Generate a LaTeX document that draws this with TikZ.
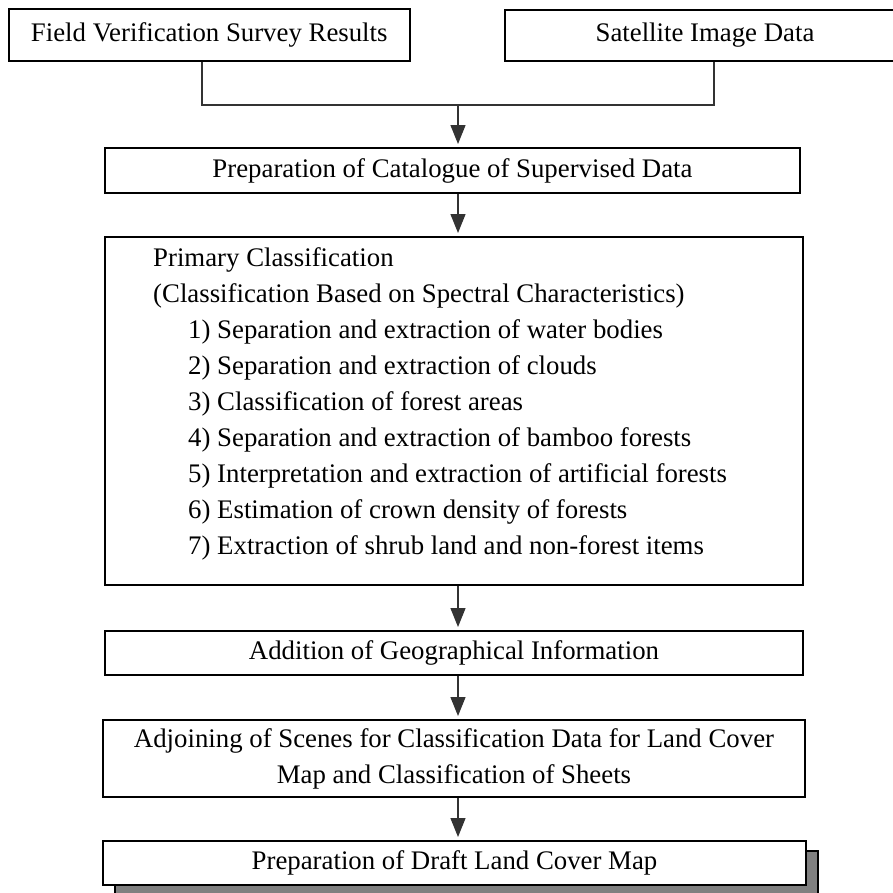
\documentclass[tikz,border=0pt]{standalone}
\usepackage{fontspec}
\setmainfont{Liberation Serif}
\usetikzlibrary{arrows.meta,shadows}
\begin{document}
\begin{tikzpicture}[x=1pt,y=-1pt,
  font=\fontsize{26.8}{36}\selectfont,
  box/.style={draw=black, line width=2pt, fill=white, inner sep=0pt, align=center},
  conn/.style={draw=black!80, line width=1.3pt},
  arr/.style={conn, -{Triangle[width=15pt,length=19pt]}, shorten >=3pt},
  shadowbox/.style={box, drop shadow={shadow xshift=12pt, shadow yshift=-10pt, fill=black!50, draw=black, line width=1.5pt, opacity=1}}]
\useasboundingbox (0,0) rectangle (893,892);
\clip (0,0) rectangle (893,892);

\node[box, minimum width=401.5pt, minimum height=52pt] (fv) at (209.25,35) {Field Verification Survey Results};
\node[box, minimum width=400pt, minimum height=51pt] (sat) at (705,35.5) {Satellite Image Data};
\node[box, minimum width=695pt, minimum height=45pt] (cat) at (452.5,170.5) {Preparation of Catalogue of Supervised Data};
\node[box, minimum width=698pt, minimum height=348pt] (prim) at (454,411) {};
\node[anchor=base west, align=left, inner sep=0pt] (primtxt) at (153,554)
 {Primary Classification\\
  (Classification Based on Spectral Characteristics)\\
  \hspace*{35pt}1) Separation and extraction of water bodies\\
  \hspace*{35pt}2) Separation and extraction of clouds\\
  \hspace*{35pt}3) Classification of forest areas\\
  \hspace*{35pt}4) Separation and extraction of bamboo forests\\
  \hspace*{35pt}5) Interpretation and extraction of artificial forests\\
  \hspace*{35pt}6) Estimation of crown density of forests\\
  \hspace*{35pt}7) Extraction of shrub land and non-forest items};
\node[box, minimum width=698pt, minimum height=44pt] (geo) at (454,653) {Addition of Geographical Information};
\node[box, minimum width=702pt, minimum height=77pt] (adj) at (454,758.5) {Adjoining of Scenes for Classification Data for Land Cover\\Map and Classification of Sheets};
\node[shadowbox, minimum width=703pt, minimum height=44pt] (draft) at (454.5,863) {Preparation of Draft Land Cover Map};

\coordinate (jl) at (202,105);
\coordinate (jr) at (714,105);
\coordinate (j) at (458,105);
\draw[conn] (fv.south -| jl) -- (jl) -- (jr) -- (sat.south -| jr);
\draw[arr] (j) -- (cat.north -| j);
\draw[arr] (cat.south -| j) -- (prim.north -| j);
\draw[arr] (prim.south -| j) -- (geo.north -| j);
\draw[arr] (geo.south -| j) -- (adj.north -| j);
\draw[arr] (adj.south -| j) -- (draft.north -| j);
\end{tikzpicture}
\end{document}
